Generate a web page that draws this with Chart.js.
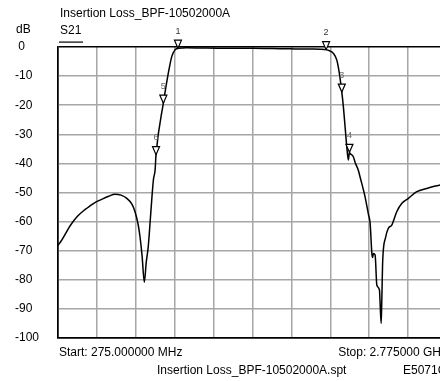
<!DOCTYPE html>
<html>
<head>
<meta charset="utf-8">
<script src="https://cdn.jsdelivr.net/npm/chart.js@4/dist/chart.umd.min.js"></script>
<style>
  html, body { margin: 0; padding: 0; background: #fff; overflow: hidden; }
  #wrap { width: 440px; height: 381px; overflow: hidden; }
</style>
</head>
<body>
<div id="wrap"><canvas id="s21" width="470" height="381"></canvas></div>
<script>
// === trace data (MHz, dB) ===
const freqMHz = [
  275, 300, 330, 352, 400, 450, 481, 520, 545, 600, 641, 680, 717, 750, 770, 790,
  802, 815, 830, 842, 855, 870, 888, 899, 905, 952, 984, 1006, 1027, 1046, 1100,
  1200, 1300, 1400, 1500, 1600, 1700, 1800, 1900, 1960, 1998, 2020, 2045, 2067,
  2083, 2099, 2109, 2120, 2131, 2141, 2148, 2152, 2173, 2184, 2206, 2216, 2248,
  2270, 2281, 2292, 2297, 2302, 2313, 2324, 2341, 2345, 2352, 2356, 2362, 2380,
  2398, 2420, 2452, 2485, 2527, 2581, 2645, 2700, 2731, 2775
];
const s21dB = [
  -68.2, -66.3, -63.5, -61.5, -58.2, -55.8, -54.6, -53.2, -52.6, -51.3, -50.6, -50.9, -52.0, -54.0, -56.6, -61.0,
  -65.2, -71.5, -80.8, -74.0, -68.6, -58.0, -45.7, -42.3, -37.0, -19.3, -9.0, -3.3, -1.0, -0.4, -0.3,
  -0.35, -0.4, -0.4, -0.45, -0.5, -0.6, -0.65, -0.7, -0.75, -0.9, -1.3, -2.2, -4.5,
  -9.0, -15.5, -20.5, -27.4, -34.3, -38.8, -36.2, -36.6, -37.7, -39.6, -42.5, -44.6, -51.4,
  -57.5, -60.6, -70.9, -72.3, -71.0, -71.5, -81.8, -83.5, -88.0, -95.0, -87.0, -73.2, -65.5,
  -62.3, -61.2, -56.6, -53.7, -52.0, -49.7, -48.6, -47.8, -47.4, -47.0
];

// markers 1..6
const markerNames = ['1', '2', '3', '4', '5', '6'];
const markerMHz = [1046, 1998, 2099, 2148, 952, 905];
const markerdB = [-0.4, -0.9, -15.5, -36.2, -19.3, -37.0];

// grid / ticks
const xGridMHz = [275, 525, 775, 1025, 1275, 1525, 1775, 2025, 2275, 2525, 2775];
const yTicks = [0, -10, -20, -30, -40, -50, -60, -70, -80, -90, -100];

const FONT = '"Liberation Sans", Arial, sans-serif';

// === marker triangles + screen annotations ===
const annotate = {
  id: 'annotate',
  afterDatasetsDraw(chart) {
    const ctx = chart.ctx;
    const meta = chart.getDatasetMeta(1);
    ctx.save();
    meta.data.forEach((pt, i) => {
      const x = pt.x, y = pt.y;
      ctx.beginPath();
      ctx.moveTo(x, y);
      ctx.lineTo(x - 3.5, y - 8);
      ctx.lineTo(x + 3.5, y - 8);
      ctx.closePath();
      ctx.fillStyle = '#fff';
      ctx.fill();
      ctx.lineWidth = 1.2;
      ctx.strokeStyle = '#000';
      ctx.stroke();
      ctx.fillStyle = i < 2 ? '#333' : '#666';
      ctx.font = '9px ' + FONT;
      ctx.textAlign = 'center';
      ctx.textBaseline = 'middle';
      ctx.fillText(markerNames[i], x, y - 17);
    });
    ctx.restore();
  },
  afterDraw(chart) {
    const ctx = chart.ctx;
    const a = chart.chartArea;
    ctx.save();
    ctx.fillStyle = '#000';
    ctx.font = '12px ' + FONT;
    ctx.textBaseline = 'middle';
    ctx.textAlign = 'left';
    ctx.fillText('Insertion Loss_BPF-10502000A', a.left + 2, 14);
    ctx.fillText('dB', 16, 30);
    ctx.fillText('S21', a.left + 2, 31);
    ctx.fillRect(a.left + 1, 41.5, 24, 1.2);
    ctx.fillText('Start: 275.000000 MHz', a.left + 1, a.bottom + 15);
    ctx.textAlign = 'right';
    ctx.fillText('Stop: 2.775000 GHz', a.right, a.bottom + 15);
    ctx.textAlign = 'left';
    ctx.fillText('Insertion Loss_BPF-10502000A.spt', a.left + 99, a.bottom + 33);
    ctx.fillText('E5071C', a.left + 345, a.bottom + 33);
    ctx.restore();
  }
};

new Chart(document.getElementById('s21'), {
  type: 'scatter',
  data: {
    datasets: [{
      data: freqMHz.map((f, i) => ({ x: f, y: s21dB[i] })),
      showLine: true,
      borderColor: '#000',
      borderWidth: 1.5,
      pointRadius: 0,
      cubicInterpolationMode: 'monotone'
    }, {
      data: markerMHz.map((f, i) => ({ x: f, y: markerdB[i] })),
      pointRadius: 0,
      showLine: false
    }]
  },
  options: {
    responsive: false,
    animation: false,
    layout: { padding: { left: 15, top: 47, right: 23, bottom: 43 } },
    plugins: { legend: { display: false }, tooltip: { enabled: false } },
    scales: {
      x: {
        type: 'linear',
        min: 275,
        max: 2775,
        afterBuildTicks: (scale) => { scale.ticks = xGridMHz.map(v => ({ value: v })); },
        ticks: { display: false },
        grid: {
          color: (c) => (c.tick && c.tick.value === 275) ? '#000' : '#a6a6a6',
          lineWidth: 1.5,
          drawTicks: false
        },
        border: { display: true, color: '#000', width: 1.5 }
      },
      y: {
        min: -100,
        max: 0,
        afterBuildTicks: (scale) => { scale.ticks = yTicks.map(v => ({ value: v })); },
        afterFit: (scale) => { scale.width = 43; },
        ticks: {
          crossAlign: 'far',
          color: '#000',
          font: { family: FONT, size: 12 },
          callback: (v) => v === 0 ? ' 0' : String(v)
        },
        grid: {
          color: (c) => (c.tick && (c.tick.value === 0 || c.tick.value === -100)) ? '#000' : '#a6a6a6',
          lineWidth: 1.5,
          drawTicks: false
        },
        border: { display: true, color: '#000', width: 1.5 }
      }
    }
  },
  plugins: [annotate]
});
</script>
</body>
</html>
